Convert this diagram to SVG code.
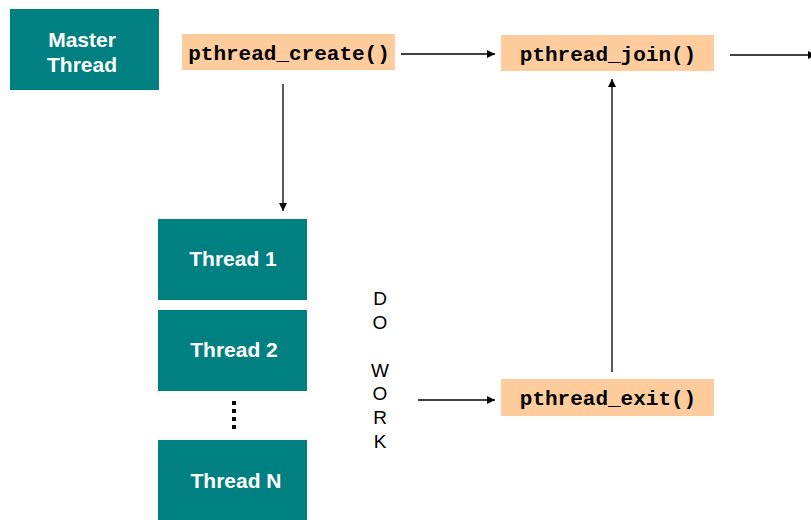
<svg xmlns="http://www.w3.org/2000/svg" width="811" height="520" viewBox="0 0 811 520">
  <style>
    .thread { fill: #008080; }
    .call { fill: #FFCC9E; }
    .tlabel { font-family: "Liberation Sans", Arial, sans-serif; font-weight: bold; font-size: 21px; fill: #ffffff; text-anchor: middle; }
    .clabel { font-family: "Liberation Mono", "Courier New", monospace; font-weight: bold; font-size: 21px; fill: #000000; text-anchor: middle; }
    .work { font-family: "Liberation Sans", Arial, sans-serif; font-size: 19px; fill: #000000; text-anchor: middle; }
    .edge { stroke: #000000; stroke-width: 1.3; fill: none; marker-end: url(#arrow); }
  </style>
  <defs>
    <marker id="arrow" viewBox="0 0 10 10" refX="10" refY="5" markerWidth="10" markerHeight="8" markerUnits="userSpaceOnUse" orient="auto">
      <path d="M0,0 L10,5 L0,10 z" fill="#000000"/>
    </marker>
  </defs>
  <rect width="811" height="520" fill="#ffffff"/>

  <g id="master">
    <rect class="thread" x="10" y="9" width="149" height="81"/>
    <text class="tlabel" x="82" y="47">Master</text>
    <text class="tlabel" x="82" y="72">Thread</text>
  </g>

  <g id="create">
    <rect class="call" x="182" y="34" width="213" height="36"/>
    <text class="clabel" x="289" y="60">pthread_create()</text>
  </g>

  <g id="join">
    <rect class="call" x="501" y="35" width="213" height="36"/>
    <text class="clabel" x="608" y="61">pthread_join()</text>
  </g>

  <g id="thread1">
    <rect class="thread" x="158" y="219" width="149" height="81"/>
    <text class="tlabel" x="233" y="266">Thread 1</text>
  </g>

  <g id="thread2">
    <rect class="thread" x="158" y="310" width="149" height="81"/>
    <text class="tlabel" x="234" y="357">Thread 2</text>
  </g>

  <g id="ellipsis">
    <rect x="232" y="401" width="4" height="4" fill="#000000"/>
    <rect x="232" y="409" width="4" height="4" fill="#000000"/>
    <rect x="232" y="417" width="4" height="4" fill="#000000"/>
    <rect x="232" y="425" width="4" height="4" fill="#000000"/>
  </g>

  <g id="threadN">
    <rect class="thread" x="158" y="440" width="149" height="81"/>
    <text class="tlabel" x="236" y="488">Thread N</text>
  </g>

  <g id="dowork">
    <text class="work" x="380" y="305">D</text>
    <text class="work" x="380" y="329">O</text>
    <text class="work" x="380" y="377">W</text>
    <text class="work" x="380" y="400">O</text>
    <text class="work" x="380" y="424">R</text>
    <text class="work" x="380" y="448">K</text>
  </g>

  <g id="exit">
    <rect class="call" x="501" y="379" width="213" height="37"/>
    <text class="clabel" x="608" y="405">pthread_exit()</text>
  </g>

  <g id="connectors">
    <line class="edge" x1="401" y1="54" x2="495" y2="54"/>
    <line class="edge" x1="730" y1="55" x2="816" y2="55"/>
    <line class="edge" x1="283" y1="84" x2="283" y2="211"/>
    <line class="edge" x1="418" y1="400" x2="495" y2="400"/>
    <line class="edge" x1="612" y1="372" x2="612" y2="79"/>
  </g>
</svg>
